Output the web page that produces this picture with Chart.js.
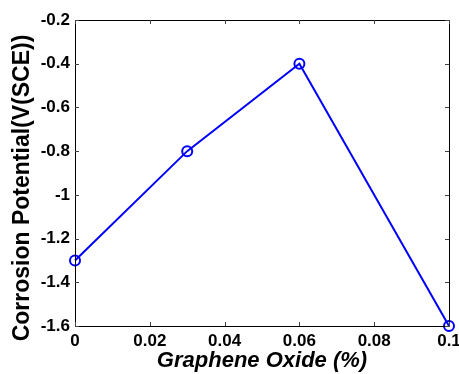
<!DOCTYPE html>
<html>
<head>
<meta charset="utf-8">
<script src="https://cdn.jsdelivr.net/npm/chart.js@4/dist/chart.umd.min.js"></script>
<style>
  html, body { margin: 0; padding: 0; background: #fff; }
</style>
</head>
<body>
<canvas id="goChart" width="459" height="374"></canvas>
<script>
// graphene oxide content (%) vs corrosion potential
var goContent = [0, 0.03, 0.06, 0.1]
var corrPotential = [-1.3, -0.8, -0.4, -1.6]

var xTicks = [0, 0.02, 0.04, 0.06, 0.08, 0.1]
var yTicks = [-1.6, -1.4, -1.2, -1, -0.8, -0.6, -0.4, -0.2]
var yTitle = 'Corrosion Potential(V(SCE))'

var fmt = function (v) { return String(Number(v.toFixed(2))) }

// matlab style box with inward ticks, plus the y title (sits a bit low like the original)
var boxPlugin = {
  id: 'box',
  afterDraw: function (chart) {
    var ctx = chart.ctx
    var a = chart.chartArea
    var xs = chart.scales.x
    var ys = chart.scales.y
    ctx.save()
    ctx.strokeStyle = '#000'
    ctx.lineWidth = 1
    ctx.beginPath()
    ctx.rect(Math.round(a.left) + 0.5, Math.round(a.top) + 0.5,
      Math.round(a.right - a.left), Math.round(a.bottom - a.top))
    ctx.stroke()
    ctx.strokeStyle = '#444'
    ctx.beginPath()
    xTicks.forEach(function (t) {
      var px = Math.round(xs.getPixelForValue(t)) + 0.5
      ctx.moveTo(px, a.bottom); ctx.lineTo(px, a.bottom - 4)
      ctx.moveTo(px, a.top); ctx.lineTo(px, a.top + 4)
    })
    yTicks.forEach(function (t) {
      var py = Math.round(ys.getPixelForValue(t)) + 0.5
      ctx.moveTo(a.left, py); ctx.lineTo(a.left + 4, py)
      ctx.moveTo(a.right, py); ctx.lineTo(a.right - 4, py)
    })
    ctx.stroke()

    ctx.translate(23, (a.top + a.bottom) / 2 + 15)
    ctx.rotate(-Math.PI / 2)
    ctx.fillStyle = '#000'
    ctx.font = 'bold 23px "Liberation Sans", Arial'
    ctx.textAlign = 'center'
    ctx.textBaseline = 'middle'
    ctx.fillText(yTitle, 0, 0)
    ctx.restore()
  }
}

new Chart(document.getElementById('goChart'), {
  type: 'line',
  data: {
    datasets: [{
      data: goContent.map(function (x, i) { return { x: x, y: corrPotential[i] } }),
      borderColor: '#0000ff',
      borderWidth: 2,
      backgroundColor: 'rgba(0,0,0,0)',
      pointRadius: 5,
      pointBorderWidth: 2,
      pointBorderColor: '#0000ff',
      pointBackgroundColor: 'rgba(0,0,0,0)',
      lineTension: 0,
      fill: false,
      clip: false
    }]
  },
  options: {
    responsive: false,
    animation: false,
    layout: { padding: { top: 20, right: 10, left: 0, bottom: 0 } },
    plugins: { legend: { display: false }, tooltip: { enabled: false } },
    scales: {
      x: {
        type: 'linear',
        min: 0,
        max: 0.1,
        afterFit: function (s) { s.height = 48; s.paddingLeft = 0; s.paddingRight = 0 },
        afterBuildTicks: function (s) { s.ticks = xTicks.map(function (v) { return { value: v } }) },
        grid: { display: false, drawTicks: false },
        border: { display: false },
        ticks: {
          color: '#000',
          padding: 5,
          maxRotation: 0,
          font: { family: 'Liberation Sans, Arial', size: 17, weight: 'bold' },
          callback: function (v) { return fmt(v) }
        },
        title: {
          display: true,
          text: 'Graphene Oxide (%)',
          color: '#000',
          padding: { top: 0, bottom: 0 },
          font: { family: 'Liberation Sans, Arial', size: 22, weight: 'bold', style: 'italic' }
        }
      },
      y: {
        type: 'linear',
        min: -1.6,
        max: -0.2,
        afterFit: function (s) { s.width = 75; s.paddingTop = 0; s.paddingBottom = 0 },
        afterBuildTicks: function (s) { s.ticks = yTicks.map(function (v) { return { value: v } }) },
        grid: { display: false, drawTicks: false },
        border: { display: false },
        ticks: {
          color: '#000',
          padding: 5,
          font: { family: 'Liberation Sans, Arial', size: 17, weight: 'bold' },
          callback: function (v) { return fmt(v) }
        }
      }
    }
  },
  plugins: [boxPlugin]
})
</script>
</body>
</html>
